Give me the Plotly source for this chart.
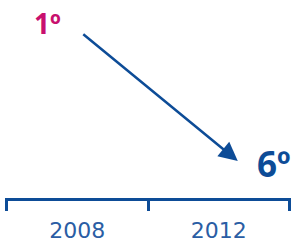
import plotly.graph_objects as go

years = ["2008", "2012"]
ranks = [1, 6]
rank_labels = ["1º", "6º"]
rank_colors = ["#C8106E", "#0D4C97"]

axis_blue = "#0D4C97"
label_blue = "#2A5DA4"

xs = [i + 0.5 for i in range(len(years))]

fig = go.Figure()
fig.add_trace(go.Scatter(x=xs, y=ranks, mode="markers",
                         marker=dict(opacity=0), hoverinfo="skip", showlegend=False))

styles = [dict(dx=-30, dy=2, size=28), dict(dx=55, dy=2, size=35)]
for x, r, lab, col, st in zip(xs, ranks, rank_labels, rank_colors, styles):
    fig.add_annotation(x=x, y=r, xref="x", yref="y", text=lab, showarrow=False,
                       xshift=st["dx"], yshift=st["dy"],
                       font=dict(family="Open Sans", size=st["size"], color=col, weight="bold"))

# arrow from first rank to second rank
fig.add_annotation(x=xs[1], y=ranks[1], xref="x", yref="y", text="",
                   showarrow=True, xshift=19, yshift=4, ax=-156, ay=-128,
                   arrowhead=2, arrowsize=1.5, arrowwidth=2.5, arrowcolor=axis_blue)

fig.update_xaxes(range=[-0.01, 2.01], showgrid=False, zeroline=False, automargin=False,
                 showline=True, linecolor=axis_blue, linewidth=3,
                 tickvals=xs, ticktext=years, ticks="",
                 ticklabelstandoff=11,
                 tickfont=dict(family="DejaVu Sans", size=22, color=label_blue, weight=400),
                 minor=dict(tick0=0, dtick=1, ticks="outside", ticklen=10,
                            tickwidth=3, tickcolor=axis_blue, showgrid=False))
fig.update_yaxes(range=[7.174, 0.128], visible=False, automargin=False)

fig.update_layout(width=293, height=243, margin=dict(l=5, r=2, t=0, b=45, autoexpand=False),
                  plot_bgcolor="white", paper_bgcolor="white", showlegend=False)

fig.write_html("out.html", config={"displayModeBar": False, "staticPlot": True})

with open("out.html", encoding="utf-8") as f:
    html = f.read()
html = html.replace("<head>", "<head><style>html,body{margin:0;padding:0;overflow:hidden}</style>", 1)
with open("out.html", "w", encoding="utf-8") as f:
    f.write(html)
